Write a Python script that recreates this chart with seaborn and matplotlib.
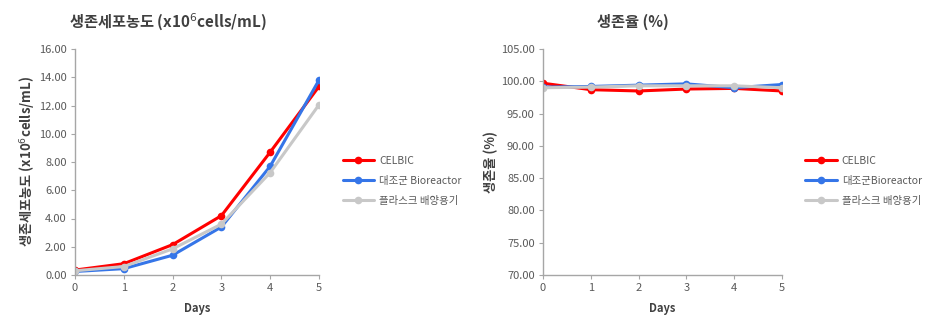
import matplotlib
matplotlib.use("Agg")
import matplotlib.pyplot as plt
import seaborn as sns
import pandas as pd

sns.set_theme(style="white")
plt.rcParams['font.family'] = ['Noto Sans CJK KR', 'DejaVu Sans']
plt.rcParams['mathtext.fontset'] = 'dejavusans'

days = [0, 1, 2, 3, 4, 5]
series_names = ["CELBIC", "대조군 Bioreactor", "플라스크 배양용기"]
series_names_right = ["CELBIC", "대조군Bioreactor", "플라스크 배양용기"]

density_celbic = [0.35, 0.80, 2.15, 4.20, 8.70, 13.35]
density_bioreactor = [0.25, 0.45, 1.40, 3.40, 7.70, 13.80]
density_flask = [0.30, 0.60, 1.85, 3.60, 7.25, 12.05]

viability_celbic = [99.7, 98.7, 98.5, 98.8, 98.9, 98.5]
viability_bioreactor = [99.1, 99.2, 99.4, 99.6, 99.0, 99.5]
viability_flask = [99.0, 99.1, 99.3, 99.3, 99.3, 99.0]

colors = ["#FF0000", "#3575E8", "#C8C8C8"]
text_gray = "#595959"
spine_gray = "#A6A6A6"


def long_frame(names, values):
    rows = []
    for name, vals in zip(names, values):
        for d, v in zip(days, vals):
            rows.append({"Days": d, "value": v, "series": name})
    return pd.DataFrame(rows)


fig = plt.figure(figsize=(9.27, 3.30), dpi=100)
ax1 = fig.add_axes([75 / 927, 55 / 330, 244 / 927, 226 / 330])
ax2 = fig.add_axes([543 / 927, 55 / 330, 239 / 927, 226 / 330])

df1 = long_frame(series_names, [density_celbic, density_bioreactor, density_flask])
df2 = long_frame(series_names_right, [viability_celbic, viability_bioreactor, viability_flask])

panels = [
    (ax1, df1, series_names, (0, 16), [0, 2, 4, 6, 8, 10, 12, 14, 16],
     "생존세포농도 (x10$^{6}$cells/mL)", "생존세포농도 (x10$^{6}$cells/mL)", 168 / 927),
    (ax2, df2, series_names_right, (70, 105), [70, 75, 80, 85, 90, 95, 100, 105],
     "생존율 (%)", "생존율 (%)", 633 / 927),
]

for ax, df, names, ylim, yticks, ylabel, title, title_x in panels:
    sns.lineplot(data=df, x="Days", y="value", hue="series", hue_order=names,
                 palette=colors, marker="o", markersize=5.5, markeredgewidth=0,
                 linewidth=2.2, ax=ax, legend=True)
    ax.set_xlim(0, 5)
    ax.set_ylim(*ylim)
    ax.set_xticks(days)
    ax.set_yticks(yticks)
    ax.set_yticklabels([f"{t:.2f}" for t in yticks])
    for s in ["top", "right"]:
        ax.spines[s].set_visible(False)
    for s in ["left", "bottom"]:
        ax.spines[s].set_color(spine_gray)
        ax.spines[s].set_linewidth(1.0)
    ax.tick_params(axis="both", which="major", direction="out", length=3,
                   width=0.8, color=spine_gray, labelsize=8, labelcolor=text_gray, pad=3)
    ax.tick_params(left=True, bottom=True)
    ax.set_xlabel("Days", fontsize=8, fontweight="bold", color="#404040", labelpad=6)
    ax.set_ylabel(ylabel, fontsize=9.5, fontweight="bold", color="#404040", labelpad=2)
    fig.text(title_x, 1 - 22 / 330, title, fontsize=11, fontweight="bold",
             color="#404040", ha="center", va="center")
    ax.legend(loc="center left", bbox_to_anchor=(1.08, 0.416), frameon=False,
              fontsize=7.5, labelcolor=text_gray, handlelength=3.0,
              handletextpad=0.5, borderaxespad=0, labelspacing=0.95)

fig.savefig("out.png", dpi=100)
